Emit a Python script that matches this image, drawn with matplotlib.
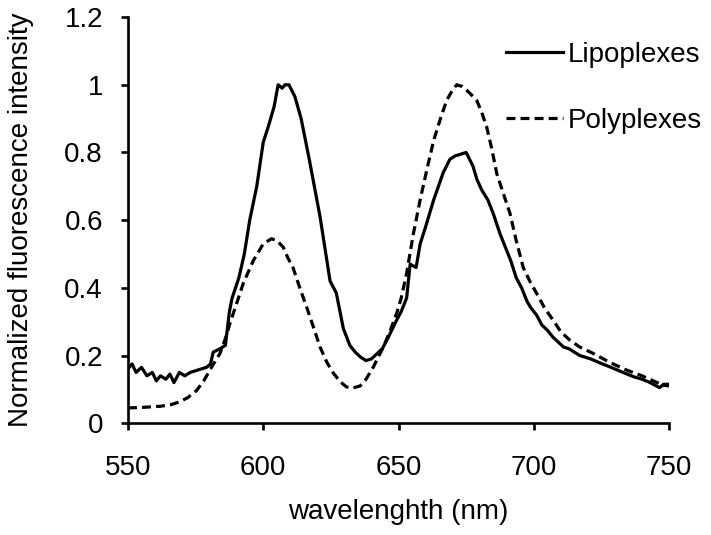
import matplotlib
matplotlib.use("Agg")
from matplotlib import pyplot as plt
from matplotlib.ticker import FuncFormatter

# values
lipo_wl = [550, 551.5, 553, 555, 557, 559, 560.5, 562, 564, 565.5, 567, 569, 571, 573, 575,
           577, 579, 580.5, 581.5, 584, 586, 587.5, 588.5, 591, 593, 595, 597.6, 600, 602, 604,
           605.5, 607, 608, 609.5, 611.7, 614, 617, 621, 624.7, 627, 629.6, 632, 634, 636, 638,
           640, 642, 644, 646, 649, 651, 653, 654.3, 656.5, 658, 660, 663, 666.5, 669, 671,
           673, 675, 677.5, 679, 680.7, 683, 685, 687.5, 690, 691.5, 693.5, 695.5, 697.5, 699,
           701, 703, 705, 707, 709, 711, 713, 715, 717, 719, 721, 724.5, 727, 730, 733, 737,
           740, 743, 746.5, 748, 750]
lipo_int = [0.16, 0.175, 0.15, 0.165, 0.14, 0.15, 0.125, 0.14, 0.13, 0.145, 0.12, 0.15, 0.14, 0.15, 0.155,
            0.16, 0.165, 0.175, 0.21, 0.22, 0.23, 0.33, 0.37, 0.43, 0.5, 0.60, 0.70, 0.83, 0.88, 0.935,
            1.0, 0.99, 1.0, 1.0, 0.965, 0.90, 0.78, 0.61, 0.42, 0.385, 0.28, 0.23, 0.21, 0.195, 0.185,
            0.19, 0.205, 0.22, 0.25, 0.30, 0.33, 0.37, 0.47, 0.46, 0.53, 0.58, 0.66, 0.74, 0.78, 0.79,
            0.795, 0.80, 0.76, 0.72, 0.69, 0.66, 0.62, 0.56, 0.51, 0.48, 0.43, 0.40, 0.36, 0.34,
            0.32, 0.29, 0.275, 0.255, 0.24, 0.225, 0.22, 0.21, 0.2, 0.195, 0.19, 0.178, 0.17, 0.16, 0.15, 0.137,
            0.13, 0.12, 0.105, 0.115, 0.115]

poly_wl = [550, 556, 562, 566, 569, 572, 575.4, 578, 580.3, 582, 584, 586, 587.7, 590, 592.6,
           596.3, 600, 603, 605, 607.4, 609, 611, 613.5, 616, 618.5, 621, 623.5, 626, 628.5,
           630.8, 633, 635.8, 638, 640.7, 642.5, 644.4, 647, 649.3, 651, 653, 655.5, 658, 660.5,
           663, 665.5, 667.8, 670, 671.5, 673.5, 675.2, 677, 678.9, 680.7, 682.6, 684.5, 686.3,
           688.7, 691.2, 693.5, 696.1, 698.5, 701.1, 704, 707.2, 710, 713.4, 717, 722, 728,
           734.3, 740, 745, 748, 750]
poly_int = [0.045, 0.047, 0.05, 0.055, 0.063, 0.075, 0.097, 0.125, 0.157, 0.18, 0.206, 0.25, 0.295, 0.35, 0.413,
            0.48, 0.53, 0.545, 0.54, 0.52, 0.49, 0.46, 0.40, 0.344, 0.285, 0.225, 0.18, 0.147, 0.122,
            0.107, 0.104, 0.11, 0.13, 0.166, 0.195, 0.225, 0.275, 0.324, 0.37, 0.443, 0.56, 0.66, 0.75,
            0.836, 0.9, 0.954, 0.985, 1.0, 0.995, 0.984, 0.97, 0.954, 0.92, 0.875, 0.81, 0.738,
            0.68, 0.62, 0.54, 0.46, 0.42, 0.383, 0.34, 0.304, 0.27, 0.245, 0.225, 0.206, 0.18,
            0.157, 0.14, 0.122, 0.112, 0.11]

plt.rcParams["font.family"] = ["Liberation Sans", "DejaVu Sans"]
fs = 20

fig = plt.figure(figsize=(7.11, 5.35), dpi=100)
ax = fig.add_axes([0.18, 0.209, 0.761, 0.759])

ax.plot(lipo_wl, lipo_int, color="black", lw=2.3, label="Lipoplexes")
ax.plot(poly_wl, poly_int, color="black", lw=2.3, ls=(0, (2.8, 1.6)), label="Polyplexes")

ax.set_xlim(550, 750)
ax.set_ylim(0, 1.2)
ax.set_xticks([550, 600, 650, 700, 750])
ax.set_yticks([0, 0.2, 0.4, 0.6, 0.8, 1.0, 1.2])
ax.yaxis.set_major_formatter(FuncFormatter(lambda v, p: "%g" % round(v, 2)))

for s in ["top", "right"]:
    ax.spines[s].set_visible(False)
for s in ["left", "bottom"]:
    ax.spines[s].set_linewidth(1.9)
ax.tick_params(direction="out", length=5, width=1.9, labelsize=fs, pad=13)
ax.tick_params(axis="x", pad=18)

ax.set_xlabel("wavelenghth (nm)", fontsize=fs, labelpad=13)
ax.set_ylabel("Normalized fluorescence intensity", fontsize=fs, labelpad=22)

ax.legend(loc="upper right", bbox_to_anchor=(1.107, 1.0), frameon=False, fontsize=fs,
          handlelength=2.05, handletextpad=0.18, labelspacing=1.42)

fig.savefig("out.png", dpi=100)
